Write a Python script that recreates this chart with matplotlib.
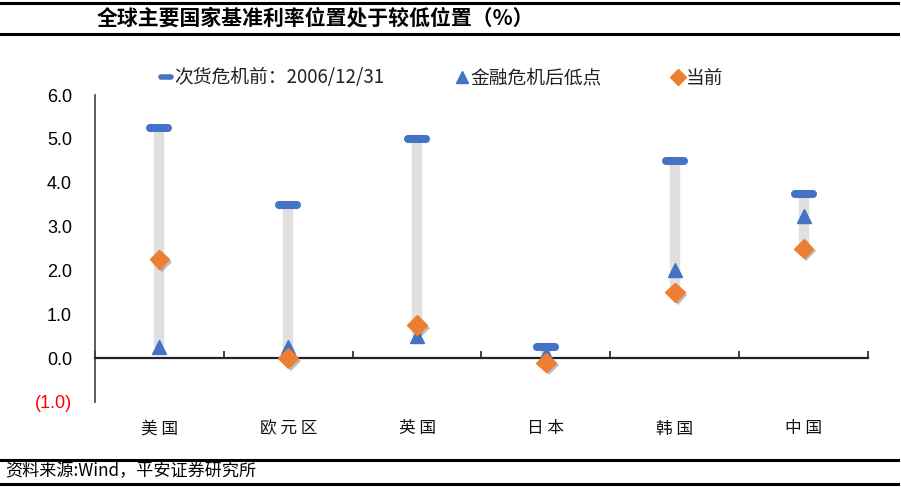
import matplotlib.pyplot as plt
import matplotlib.patheffects as pe
from matplotlib.lines import Line2D
from matplotlib.markers import MarkerStyle

plt.rcParams['font.family'] = ['Noto Sans CJK SC', 'DejaVu Sans']

countries = ["美国", "欧元区", "英国", "日本", "韩国", "中国"]
pre_crisis = [5.25, 3.5, 5.0, 0.25, 4.5, 3.75]
post_low = [0.25, 0.25, 0.5, 0.1, 2.0, 3.25]
current = [2.25, 0.0, 0.75, -0.1, 1.5, 2.5]
yticks = [-1, 0, 1, 2, 3, 4, 5, 6]
ytick_labels = ["(1.0)", "0.0", "1.0", "2.0", "3.0", "4.0", "5.0", "6.0"]
labels = ["次货危机前：2006/12/31", "金融危机后低点", "当前"]

blue = "#4472C4"
orange = "#ED7D31"

fig = plt.figure(figsize=(9.01, 4.88), dpi=100)
ax = fig.add_axes([95 / 901, 1 - 402 / 488, (868 - 95) / 901, (402 - 95) / 488])

x = list(range(len(countries)))
lows = [min(a, b, c) for a, b, c in zip(pre_crisis, post_low, current)]
highs = [max(a, b, c) for a, b, c in zip(pre_crisis, post_low, current)]

# gray range bars
ax.vlines(x, lows, highs, color="#E0E0E0", linewidth=7.5, zorder=1)

bar_marker = MarkerStyle("_", capstyle="round")
ax.plot(x, pre_crisis, linestyle="none", marker=bar_marker, markersize=13,
        markeredgewidth=5.8, color=blue, zorder=3)
ax.plot(x, post_low, linestyle="none", marker="^", markersize=10.5,
        color=blue, zorder=3)
shadow = [pe.SimplePatchShadow(offset=(2, -2), shadow_rgbFace="#555555", alpha=0.4),
          pe.Normal()]
ax.plot(x, current, linestyle="none", marker="D", markersize=10,
        color=orange, zorder=4, path_effects=shadow)

ax.set_xlim(-0.5, len(countries) - 0.5)
ax.set_ylim(-1, 6)

# x axis at zero with inner ticks at category boundaries
ax.spines["bottom"].set_position(("data", 0))
ax.spines["bottom"].set_linewidth(1.6)
ax.spines["bottom"].set_color("#222222")
ax.set_xticks([i + 0.5 for i in range(-1, len(countries))])
ax.set_xticklabels([])
ax.tick_params(axis="x", direction="in", length=5, width=1.2, color="#222222")

ax.spines["left"].set_color("#404040")
ax.spines["left"].set_linewidth(1.2)
ax.spines["top"].set_visible(False)
ax.spines["right"].set_visible(False)
ax.set_yticks(yticks)
ax.set_yticklabels(ytick_labels, family="Liberation Sans", fontsize=13)
ax.tick_params(axis="y", length=0, pad=16.5)
ax.get_yticklabels()[0].set_color("red")

for i, name in enumerate(countries):
    ax.annotate(" ".join(name), xy=(i, 0), xycoords=("data", "axes fraction"),
                xytext=(0, -27), textcoords="offset pixels",
                ha="center", va="center", fontsize=12, color="#111111")

# legend, one entry per block as in the original layout
handles = [
    Line2D([], [], linestyle="none", marker=bar_marker, markersize=7,
           markeredgewidth=4, color=blue),
    Line2D([], [], linestyle="none", marker="^", markersize=9, color=blue),
    Line2D([], [], linestyle="none", marker="D", markersize=8, color=orange),
]
legend_x = [161, 457, 673]
for h, lab, lx in zip(handles, labels, legend_x):
    fig.legend([h], [lab], loc="center left", bbox_to_anchor=(lx / 901, 1 - 78 / 488),
               frameon=False, fontsize=13.5, handlelength=0.55, handletextpad=0.15,
               borderpad=0, borderaxespad=0, labelcolor="#222222")

# title and frame lines
fig.text(97 / 901, 1 - 18 / 488, "全球主要国家基准利率位置处于较低位置（%）",
         fontsize=15, fontweight="bold", va="center", ha="left")
for yy in [2.7, 33.7, 460, 484.3]:
    fig.add_artist(Line2D([0, 898 / 901], [1 - yy / 488, 1 - yy / 488],
                          color="black", linewidth=2.2))
fig.text(5 / 901, 1 - 471 / 488, "资料来源:Wind，平安证券研究所",
         fontsize=12.3, style="italic", va="center", ha="left")

fig.savefig("out.png", dpi=100)
